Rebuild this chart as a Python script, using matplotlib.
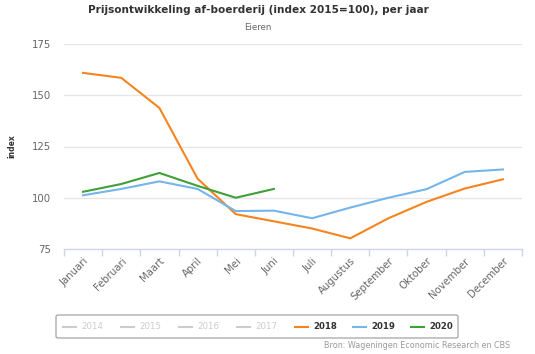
import matplotlib
matplotlib.use("Agg")
import matplotlib.pyplot as plt
from matplotlib.lines import Line2D
from matplotlib.patches import FancyBboxPatch

months = ["Januari", "Februari", "Maart", "April", "Mei", "Juni", "Juli",
          "Augustus", "September", "Oktober", "November", "December"]
y2018 = [160.9, 158.5, 143.8, 109.3, 92.0, 88.5, 85.0, 80.2, 90.0, 98.0, 104.5, 109.0]
y2019 = [101.2, 104.3, 108.0, 104.3, 93.5, 93.7, 90.0, 95.2, 100.0, 104.2, 112.6, 113.8]
y2020 = [102.9, 106.7, 112.1, 105.8, 100.0, 104.3]
legend_years = ["2014", "2015", "2016", "2017", "2018", "2019", "2020"]
yticks = [75, 100, 125, 150, 175]

c2018 = "#f5841f"
c2019 = "#74b5ec"
c2020 = "#3ea036"

fig = plt.figure(figsize=(5.35, 3.54), dpi=100)
ax = fig.add_axes([64/535, 1-249/354, (522-64)/535, (249-44)/354])

x = list(range(len(months)))
ax.plot(x, y2018, color=c2018, lw=1.5, solid_joinstyle="round")
ax.plot(x, y2019, color=c2019, lw=1.5, solid_joinstyle="round")
ax.plot(range(len(y2020)), y2020, color=c2020, lw=1.5, solid_joinstyle="round")

ax.set_xlim(-0.5, len(months) - 0.5)
ax.set_ylim(75, 175)
ax.set_yticks(yticks)
ax.set_yticklabels([str(v) for v in yticks], color="#666666", fontsize=7.3)
ax.tick_params(axis="y", length=0, pad=9.3)
for v in yticks[1:]:
    ax.axhline(v, color="#e6e6e6", lw=1, zorder=0)

ax.set_xticks([i for i in x])
ax.set_xticklabels(months, rotation=45, ha="right", rotation_mode="anchor",
                   color="#666666", fontsize=7.3)
ax.set_xticks([i - 0.5 for i in range(len(months) + 1)], minor=True)
ax.tick_params(axis="x", which="major", length=0, pad=5)
ax.tick_params(axis="x", which="minor", length=5, color="#ccd6eb", width=1)

for s in ["top", "right", "left"]:
    ax.spines[s].set_visible(False)
ax.spines["bottom"].set_color("#ccd6eb")
ax.spines["bottom"].set_linewidth(1)

fig.text(12/535, 1-146/354, "index", rotation=90, ha="center", va="center",
         fontsize=5.5, fontweight="bold", color="#333333")

fig.text(258/535, 1-10/354, "Prijsontwikkeling af-boerderij (index 2015=100), per jaar",
         ha="center", va="center", fontsize=7.6, fontweight="bold", color="#333333")
fig.text(258/535, 1-27/354, "Eieren", ha="center", va="center", fontsize=6.2, color="#666666")

# legend
box = FancyBboxPatch((56/535, 1-338/354), (458-56)/535, (338-315)/354,
                     boxstyle="round,pad=0,rounding_size=0.004",
                     transform=fig.transFigure, facecolor="white",
                     edgecolor="#999999", lw=0.8)
fig.add_artist(box)
item_x = [63, 121, 179, 237, 295, 353, 411]
colors = ["#cccccc"] * 4 + [c2018, c2019, c2020]
for yr, xx, col in zip(legend_years, item_x, colors):
    yy = 1 - 326.5/354
    fig.add_artist(Line2D([xx/535, (xx+13)/535], [yy, yy], color=col, lw=1.5,
                          transform=fig.transFigure))
    active = yr in ("2018", "2019", "2020")
    fig.text((xx+18)/535, yy, yr, ha="left", va="center", fontsize=6.2,
             fontweight="bold" if active else "normal",
             color="#333333" if active else "#cccccc")

fig.text(510/535, 1-345/354, "Bron: Wageningen Economic Research en CBS",
         ha="right", va="center", fontsize=5.8, color="#999999")

fig.savefig("out.png", dpi=100, facecolor="white")
